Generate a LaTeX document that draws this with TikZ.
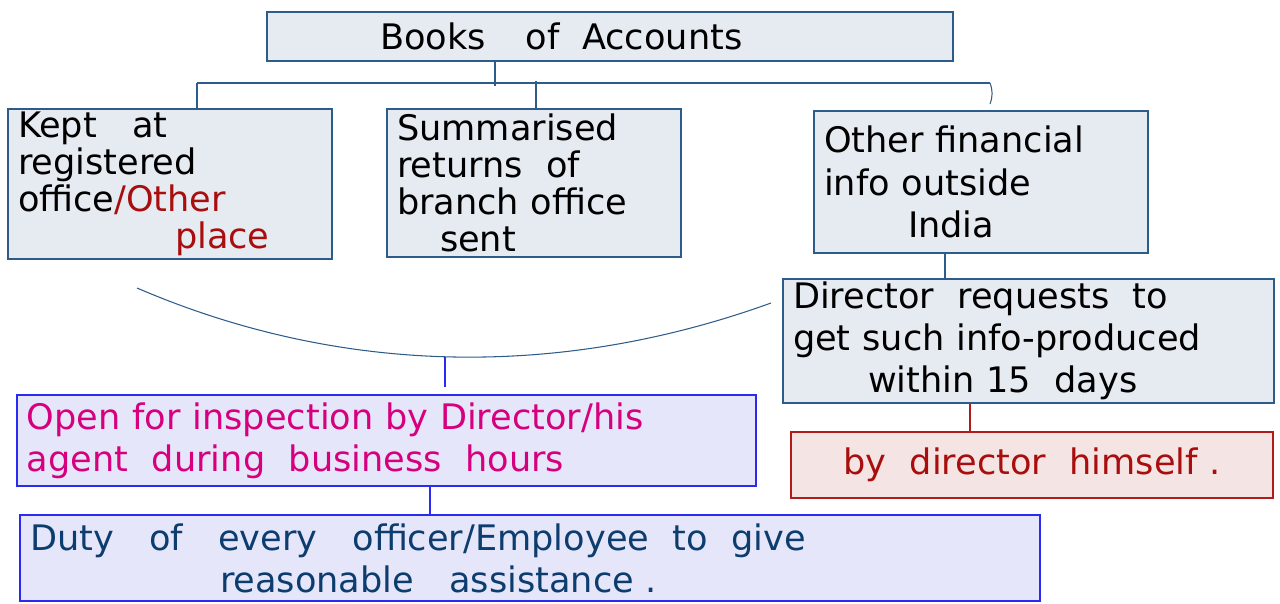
\documentclass[tikz,border=0pt]{standalone}
\usepackage{fontspec}
\setmainfont{DejaVu Sans}
\usetikzlibrary{positioning}

\definecolor{slatefill}{HTML}{E6EAF1}
\definecolor{slateedge}{HTML}{2E5C8A}
\definecolor{lavfill}{HTML}{E6E6FA}
\definecolor{lavedge}{HTML}{2A2AF2}
\definecolor{rosefill}{HTML}{F5E4E4}
\definecolor{roseedge}{HTML}{B01C1C}
\definecolor{redink}{HTML}{A80E0E}
\definecolor{pinkink}{HTML}{D6007E}
\definecolor{navyink}{HTML}{0D3D6E}

\begin{document}
\begin{tikzpicture}[
  font=\fontsize{20}{24}\selectfont,
  card/.style={draw=slateedge, fill=slatefill, line width=.8pt,
               inner xsep=0.2cm, inner ysep=0pt, align=left},
  lavcard/.style={card, draw=lavedge, fill=lavfill},
  rosecard/.style={card, draw=roseedge, fill=rosefill, align=center},
  tight/.style={font=\fontsize{20}{21}\selectfont},
  link/.style={draw=slateedge, line width=.6pt},
  bluelink/.style={draw=lavedge, line width=.6pt},
  redlink/.style={draw=roseedge, line width=.6pt}
]
\useasboundingbox (0,0) rectangle (25.6,-12.06);

\node[card, text width=13.32cm, minimum height=0.98cm]
  (books) at (12.2,-0.73) {\hspace*{2.06cm}Books\hspace{0.8cm}of\hspace{0.45cm}Accounts};

% second row
\node[card, tight, text width=6.08cm, minimum height=3.0cm]
  (kept) at (3.4,-3.68) {Kept\ \ \ at\\registered\\office{\color{redink}/Other}\\
  \hspace*{3.14cm}{\color{redink}place}};
\node[card, tight, text width=5.48cm, minimum height=2.96cm]
  (branch) at (10.68,-3.66) {Summarised\\returns\ \ of\\branch\ office\\
  \hspace*{0.86cm}sent};
\node[card, text width=6.28cm, minimum height=2.84cm]
  (abroad) at (19.62,-3.64) {Other financial\\info\ outside\\
  \hspace*{1.68cm}India};

% right column
\node[card, text width=9.42cm, minimum height=2.48cm]
  (request) at (20.57,-6.82) {Director\ \ requests\ \ to\\get\ such\ info-produced\\
  \hspace*{1.5cm}within\ 15\ \ days};
\node[rosecard, text width=9.24cm, minimum height=1.32cm]
  (himself) at (20.64,-9.3) {\color{redink}by\ \ director\ \ himself\ .};

% bottom rows
\node[lavcard, text width=14.38cm, minimum height=1.82cm]
  (inspect) at (7.73,-8.81) {\color{pinkink}Open for inspection by Director/his\\
  agent\ \ during\ \ business\ \ hours};
\node[lavcard, text width=20.0cm, minimum height=1.72cm]
  (duty) at (10.6,-11.16) {\color{navyink}Duty\ \ \ of\ \ \ every\ \ \ officer/Employee\ \ to\ \ give\\
  \hspace*{3.8cm}reasonable\ \ \ assistance\ .};

% bus under the title
\coordinate (drop) at (9.9,-1.72);
\coordinate (busL) at (3.94,-1.66);
\coordinate (busR) at (19.8,-1.66);
\coordinate (tap) at (10.72,-1.62);
\coordinate (hook) at (19.8,-2.08);
\draw[link] (books.south -| drop) -- (drop);
\draw[link] (busL) -- (busR);
\draw[link] (busL) -- (busL |- kept.north);
\draw[link] (tap) -- (tap |- branch.north);
\draw[link] (busR) to[bend left=20] (hook);

% abroad -> request -> himself
\coordinate (col3) at (18.9,0);
\coordinate (col4) at (19.4,0);
\draw[link] (abroad.south -| col3) -- (request.north -| col3);
\draw[redlink] (request.south -| col4) -- (himself.north -| col4);

% arc over the left side
\coordinate (arcL) at (2.74,-5.76);
\coordinate (arcR) at (15.42,-6.06);
\coordinate (stemtop) at (8.9,-7.14);
\coordinate (stemend) at (8.9,-7.74);
\draw[link] (arcL) .. controls (6.9,-7.55) and (11.3,-7.55) .. (arcR);
\draw[bluelink] (stemtop) -- (stemend);

% inspect -> duty
\coordinate (col5) at (8.6,0);
\draw[bluelink] (inspect.south -| col5) -- (duty.north -| col5);
\end{tikzpicture}
\end{document}
